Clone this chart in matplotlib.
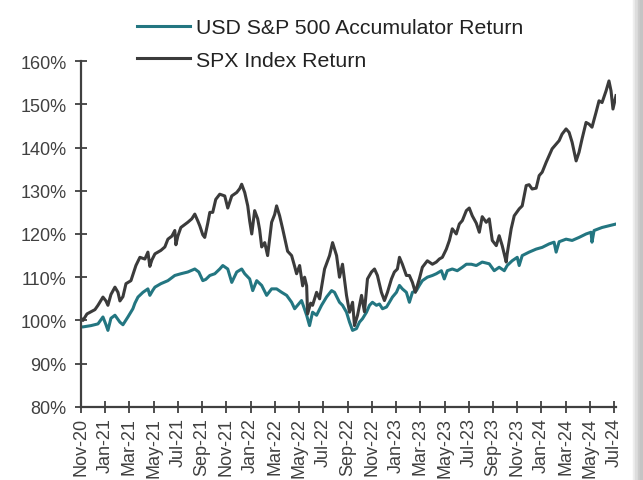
import matplotlib.pyplot as plt
from matplotlib.patches import Rectangle

plt.rcParams['font.family'] = ['Liberation Sans', 'DejaVu Sans']

# x positions are months since Nov-20
spx_m = [0.00, 0.16, 0.49, 0.82, 1.15, 1.40, 1.81, 2.06, 2.22, 2.47, 2.80, 3.05, 3.21, 3.46, 3.71,
         4.12, 4.53, 4.86, 5.27, 5.52, 5.68, 5.85, 6.10, 6.59, 6.92, 7.17, 7.50, 7.74, 7.83, 7.99,
         8.24, 8.81, 9.14, 9.39, 9.64, 9.80, 10.05, 10.21, 10.46, 10.63, 10.87, 11.12, 11.45, 11.86,
         12.11, 12.44, 12.85, 13.10, 13.26, 13.51, 13.76, 13.92, 14.09, 14.33, 14.58, 14.74, 14.91,
         15.16, 15.40, 15.57, 15.73, 15.98, 16.14, 16.39, 16.64, 16.89, 17.05, 17.38, 17.63, 17.79,
         18.04, 18.29, 18.45, 18.62, 18.70, 18.95, 19.11, 19.44, 19.69, 19.93, 20.10, 20.51, 20.76,
         21.09, 21.33, 21.58, 21.91, 22.16, 22.41, 22.57, 22.82, 23.15, 23.39, 23.64, 23.97, 24.22,
         24.46, 24.79, 25.04, 25.29, 25.62, 25.86, 26.11, 26.28, 26.52, 26.85, 27.10, 27.35, 27.59,
         27.92, 28.17, 28.58, 29.00, 29.32, 29.57, 29.82, 30.15, 30.40, 30.64, 30.97, 31.22, 31.47,
         31.80, 32.04, 32.29, 32.62, 32.87, 33.11, 33.44, 33.69, 33.94, 34.27, 34.51, 34.76, 35.09,
         35.17, 35.50, 35.75, 36.16, 36.41, 36.74, 36.98, 37.23, 37.56, 37.81, 38.06, 38.39, 38.63,
         38.88, 39.21, 39.46, 39.70, 40.03, 40.28, 40.53, 40.86, 41.10, 41.35, 41.68, 41.93, 42.17,
         42.50, 42.75, 43.00, 43.33, 43.57, 43.74, 43.90, 44.15]
spx = [100.5, 100.0, 101.5, 102.0, 102.5, 103.5, 105.4, 104.5, 103.5, 106.0, 107.7, 106.5, 104.5, 105.5, 108.5,
       109.2, 112.7, 114.6, 114.2, 115.8, 112.5, 114.0, 115.4, 116.2, 117.0, 118.8, 119.5, 120.8, 117.5, 119.5,
       121.5, 122.7, 123.5, 124.6, 123.0, 121.9, 119.8, 119.2, 122.5, 125.0, 125.0, 128.0, 129.2, 128.8,
       126.0, 128.8, 129.6, 130.5, 131.5, 129.6, 126.5, 123.0, 120.0, 125.4, 123.5, 121.0, 117.0,
       118.0, 115.0, 119.0, 122.7, 124.5, 126.5, 124.2, 121.2, 118.0, 116.0, 115.0, 112.5, 110.8,
       112.7, 108.0, 110.0, 108.0, 101.5, 104.0, 103.5, 106.5, 105.0, 109.0, 111.9, 115.0, 118.0,
       115.0, 110.0, 113.0, 105.8, 101.9, 104.2, 98.8, 101.2, 105.8, 102.0, 109.6, 111.2, 111.9,
       110.4, 106.5, 104.6, 106.5, 109.6, 111.2, 111.9, 114.6, 113.0, 110.4, 110.4, 108.8, 106.5,
       109.6, 112.3, 113.8, 113.0, 113.5, 114.2, 114.6, 116.5, 118.5, 121.2, 120.0, 122.3, 123.1,
       125.4, 126.0, 124.2, 122.5, 120.4, 124.0, 122.7, 123.5, 118.5, 117.3, 119.6, 117.3, 113.5,
       115.4, 121.2, 124.2, 125.8, 126.5, 131.2, 131.4, 130.4, 130.6, 133.5, 134.3, 136.6, 138.1,
       139.7, 140.8, 141.6, 143.1, 144.3, 143.5, 141.2, 136.9, 138.9, 142.0, 145.8, 145.4, 144.7,
       148.1, 150.8, 150.4, 153.1, 155.4, 153.1, 148.9, 152.0]

acc_m = [0.00, 0.16, 0.82, 1.40, 1.81, 2.06, 2.22, 2.47, 2.80, 3.21, 3.46, 3.87, 4.28, 4.45, 4.70,
         5.11, 5.52, 5.68, 5.93, 6.10, 6.59, 7.17, 7.74, 8.24, 8.81, 9.39, 9.72, 10.05, 10.30, 10.63,
         11.04, 11.45, 11.70, 12.11, 12.44, 12.85, 13.26, 13.51, 13.92, 14.17, 14.50, 14.91, 15.32,
         15.73, 16.14, 16.56, 16.97, 17.38, 17.63, 17.87, 18.20, 18.62, 18.86, 19.11, 19.44, 19.85,
         20.26, 20.68, 20.92, 21.33, 21.58, 21.91, 22.16, 22.41, 22.73, 22.98, 23.23, 23.56, 23.81,
         24.05, 24.38, 24.63, 24.88, 25.21, 25.45, 25.70, 26.03, 26.28, 26.52, 26.85, 27.10, 27.35,
         27.68, 27.92, 28.17, 28.58, 29.00, 29.32, 29.74, 29.98, 30.23, 30.64, 31.05, 31.47, 31.80,
         32.21, 32.62, 33.11, 33.69, 34.10, 34.51, 34.93, 35.17, 35.58, 36.00, 36.16, 36.41, 36.98,
         37.56, 38.06, 38.63, 39.04, 39.21, 39.46, 40.03, 40.53, 41.10, 41.68, 42.09, 42.17, 42.34,
         43.00, 43.57, 44.15]
acc = [98.5, 98.5, 98.8, 99.2, 100.8, 99.0, 97.7, 100.5, 101.2, 99.6, 99.0, 100.8, 102.7, 104.0, 105.4,
       106.5, 107.3, 105.8, 107.0, 107.7, 108.5, 109.2, 110.4, 110.8, 111.2, 111.9, 111.2, 109.2, 109.5, 110.4,
       110.8, 111.9, 112.7, 111.9, 108.8, 111.2, 111.9, 110.8, 109.6, 106.9, 109.2, 108.1, 105.8,
       107.3, 107.3, 106.5, 105.8, 104.2, 102.7, 103.5, 104.6, 101.2, 98.8, 101.9, 101.2, 103.5,
       105.4, 106.9, 106.5, 104.2, 103.5, 101.9, 99.6, 97.7, 98.1, 99.6, 100.4, 101.9, 103.5,
       104.2, 103.5, 103.8, 102.7, 103.1, 104.2, 105.4, 106.5, 108.1, 107.3, 106.5, 104.2, 106.5,
       106.9, 108.1, 109.2, 110.0, 110.4, 110.8, 111.5, 109.6, 111.5, 111.9, 111.5, 112.3, 113.0,
       113.0, 112.7, 113.5, 113.1, 111.5, 112.3, 111.5, 112.7, 113.8, 114.6, 112.7, 115.0, 115.8,
       116.5, 116.9, 117.7, 118.1, 115.8, 118.2, 118.8, 118.5, 119.2, 120.0, 120.4, 118.1, 120.8,
       121.5, 121.9, 122.3]

tick_labels = ['Nov-20', 'Jan-21', 'Mar-21', 'May-21', 'Jul-21', 'Sep-21', 'Nov-21', 'Jan-22',
               'Mar-22', 'May-22', 'Jul-22', 'Sep-22', 'Nov-22', 'Jan-23', 'Mar-23', 'May-23',
               'Jul-23', 'Sep-23', 'Nov-23', 'Jan-24', 'Mar-24', 'May-24', 'Jul-24']

fig = plt.figure(figsize=(6.43, 4.81), dpi=100)
ax = fig.add_axes([0.126, 0.152, 0.832, 0.719])

ax.plot(acc_m, acc, color='#237681', lw=2.2, label='USD S&P 500 Accumulator Return')
ax.plot(spx_m, spx, color='#3b3b3b', lw=2.2, label='SPX Index Return')

ax.set_ylim(80, 160)
ax.set_xlim(0, 44.15)
ax.set_yticks(range(80, 161, 10))
ax.set_yticklabels([f'{v}%' for v in range(80, 161, 10)])
ax.set_xticks(range(0, 45, 2))
ax.set_xticklabels(tick_labels, rotation=90)
ax.tick_params(axis='both', direction='inout', length=9, width=1.3, color='#404040',
               labelsize=13, labelcolor='#404040')
ax.tick_params(axis='y', pad=6)
ax.tick_params(axis='x', pad=3)
for s in ['top', 'right']:
    ax.spines[s].set_visible(False)
for s in ['left', 'bottom']:
    ax.spines[s].set_color('#404040')
    ax.spines[s].set_linewidth(1.6)

fig.legend(loc='upper left', bbox_to_anchor=(0.194, 0.987), frameon=False, fontsize=15.3,
           handlelength=2.45, handletextpad=0.3, labelspacing=0.65, labelcolor='#222222',
           borderaxespad=0.2)

# faint page shadow on the right edge
for i, c in enumerate(['#eeeeee', '#dddddd', '#cccccc', '#c4c4c4']):
    fig.patches.append(Rectangle((0.984 + i * 0.004, 0), 0.004, 1, transform=fig.transFigure,
                                 color=c, zorder=-1))

fig.savefig('out.png', dpi=100)
